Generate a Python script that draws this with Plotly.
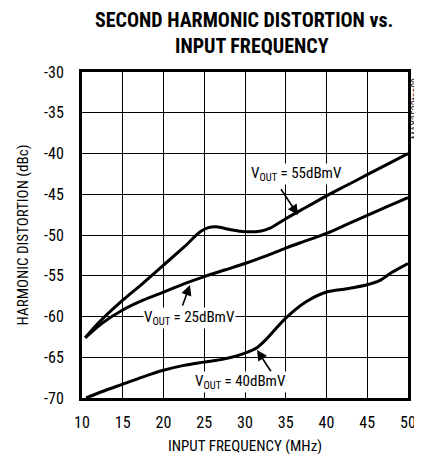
import plotly.graph_objects as go

# Data
x55 = [10.4, 12, 15, 17.5, 20, 22.5, 24.5, 25.5, 26.5, 28, 30, 32, 33, 35, 37.5, 40, 42.5, 45, 47.5, 50]
y55 = [-62.6, -60.8, -58.0, -55.9, -53.7, -51.5, -49.6, -49.1, -49.0, -49.3, -49.6, -49.5, -49.2, -48.0, -46.6, -45.2, -43.9, -42.6, -41.3, -40.0]

x25 = [10.4, 12.5, 15, 17.5, 20, 22.5, 25, 27.5, 30, 32.5, 35, 37.5, 40, 42.5, 45, 47.5, 50]
y25 = [-62.6, -60.8, -59.2, -58.0, -57.0, -56.0, -55.1, -54.3, -53.5, -52.6, -51.6, -50.7, -49.8, -48.7, -47.6, -46.5, -45.4]

x40 = [10.5, 12.5, 15, 17.5, 20, 22.5, 25, 27.5, 30, 31.5, 32.5, 35, 37.5, 40, 42.5, 45, 46.5, 48, 50]
y40 = [-70.0, -69.2, -68.3, -67.4, -66.6, -66.0, -65.6, -65.2, -64.5, -63.8, -62.9, -60.2, -58.2, -57.0, -56.6, -56.1, -55.6, -54.6, -53.5]

x_ticks = [10, 15, 20, 25, 30, 35, 40, 45, 50]
y_ticks = [-70, -65, -60, -55, -50, -45, -40, -35, -30]

labels = ["V<sub>OUT</sub> = 55dBmV", "V<sub>OUT</sub> = 25dBmV", "V<sub>OUT</sub> = 40dBmV"]
label_pos = [(36.3, -42.5), (23.25, -60.2), (29.5, -68.0)]
arrow_tail = [(34.3, -44.2), (22.27, -58.83), (33.31, -66.93)]
arrow_head = [(36.5, -47.55), (23.25, -56.13), (31.47, -64.11)]

FONT = "Liberation Sans Narrow, Arial Narrow, Roboto Condensed, Liberation Sans, sans-serif"

# page body has an 8px margin, so the figure is offset by (8, 8)
OFF = 8
W, H = 422 - OFF, 458 - OFF
L, R, T, B = 82 - OFF, 14, 72 - OFF, 60
pw = W - L - R
ph = H - T - B

def px_x(pix):
    return (pix - OFF - L) / pw

def px_y(pix):
    return (H - B - (pix - OFF)) / ph

fig = go.Figure()
for xs, ys in [(x55, y55), (x25, y25), (x40, y40)]:
    fig.add_trace(go.Scatter(x=xs, y=ys, mode="lines",
                             line=dict(color="black", width=3, shape="spline", smoothing=0.8),
                             showlegend=False, hoverinfo="skip"))

anns = []
for (tx, ty), (hx, hy) in zip(arrow_tail, arrow_head):
    anns.append(dict(x=hx, y=hy, ax=tx, ay=ty, xref="x", yref="y", axref="x", ayref="y",
                     text="", showarrow=True, arrowhead=2, arrowsize=1.3, arrowwidth=1.6,
                     arrowcolor="black"))
for t, (lx, ly) in zip(labels, label_pos):
    anns.append(dict(x=lx, y=ly, xref="x", yref="y", text=t, showarrow=False,
                     bgcolor="white", borderpad=0,
                     font=dict(family=FONT, size=15, color="black")))
anns.append(dict(text="<b>SECOND HARMONIC DISTORTION vs.</b>", x=px_x(244), y=px_y(20),
                 xref="paper", yref="paper", xanchor="center", yanchor="middle", showarrow=False,
                 font=dict(family=FONT, size=20, color="black")))
anns.append(dict(text="<b>INPUT FREQUENCY</b>", x=px_x(252), y=px_y(46),
                 xref="paper", yref="paper", xanchor="center", yanchor="middle", showarrow=False,
                 font=dict(family=FONT, size=20, color="black")))
anns.append(dict(text="MAX3532toc09", textangle=-90, showarrow=False,
                 x=px_x(415), y=px_y(109), xref="paper", yref="paper",
                 xanchor="center", yanchor="middle",
                 font=dict(family=FONT, size=10, color="#222")))

fig.update_layout(
    width=W, height=H,
    margin=dict(l=L, r=R, t=T, b=B, autoexpand=False),
    paper_bgcolor="white", plot_bgcolor="white",
    font=dict(family=FONT, size=15, color="black"),
    annotations=anns,
)
fig.update_xaxes(range=[10, 50], tickvals=x_ticks, ticktext=[str(v) for v in x_ticks],
                 showgrid=True, gridcolor="black", gridwidth=1.2,
                 showline=True, linecolor="black", linewidth=3, mirror=True,
                 ticks="", ticklabelstandoff=8, zeroline=False, automargin=False,
                 title=dict(text="INPUT FREQUENCY (MHz)", font=dict(family=FONT, size=15), standoff=10),
                 tickfont=dict(family=FONT, size=16))
fig.update_yaxes(range=[-70, -30], tickvals=y_ticks, ticktext=[str(v) for v in y_ticks],
                 showgrid=True, gridcolor="black", gridwidth=1.2,
                 showline=True, linecolor="black", linewidth=3, mirror=True,
                 ticks="", ticklabelstandoff=12, zeroline=False, automargin=False,
                 title=dict(text="HARMONIC DISTORTION (dBc)", font=dict(family=FONT, size=15), standoff=12),
                 tickfont=dict(family=FONT, size=16))

fig.write_html("out.html")
